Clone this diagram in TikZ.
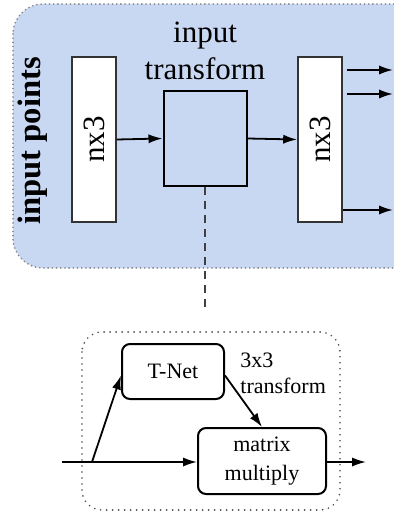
\documentclass[tikz,border=0pt]{standalone}
\usepackage{fontspec}
\setmainfont{Liberation Serif}
\usetikzlibrary{arrows.meta,calc}
\definecolor{panelblue}{RGB}{201,216,242}
\begin{document}
\begin{tikzpicture}[x=0.5pt,y=-0.5pt,
  every node/.style={inner sep=0pt},
  bigtext/.style={font=\fontsize{15.5}{18.5}\selectfont},
  smalltext/.style={font=\fontsize{11}{13}\selectfont},
  plainbox/.style={draw=black!80,line width=0.8pt,fill=white},
  emptybox/.style={draw=black,line width=1pt},
  roundbox/.style={draw=black,line width=1pt,rounded corners=4pt,fill=white,smalltext},
  arr/.style={-{Latex[length=7pt,width=4.6pt]},line width=0.9pt},
  dotframe/.style={gray,line width=0.9pt,line cap=round,dash pattern=on 0pt off 2.1pt}
]
\useasboundingbox (0,0) rectangle (394,513);

% upper panel, running off the right edge
\begin{scope}
  \clip (0,0) rectangle (394,513);
  \draw[dotframe,fill=panelblue,rounded corners=15pt] (13,4) rectangle (440,268);
\end{scope}

\node[font=\fontsize{16.3}{19}\selectfont\bfseries,rotate=90] (lbl) at (33,141) {input points};

\node[plainbox,minimum width=22pt,minimum height=82.5pt] (lb) at (94,139.5) {\rotatebox{90}{\fontsize{15.5}{18.5}\selectfont nx3}};
\node[emptybox,minimum width=41.5pt,minimum height=47.5pt] (tf) at (205,138.5) {};
\node[bigtext,align=center,anchor=south] (tft) at (205,80) {input\\transform};
\node[plainbox,minimum width=22pt,minimum height=82.5pt] (rb) at (320,139.5) {\rotatebox{90}{\fontsize{15.5}{18.5}\selectfont nx3}};

\draw[arr] (lb.east) -- (tf.west);
\draw[arr] (tf.east) -- (rb.west);

\coordinate (o1) at (393,70);
\coordinate (o2) at (393,94);
\coordinate (o3) at (393,210);
\draw[arr] ([xshift=2pt]rb.east |- o1) -- (o1);
\draw[arr] ([xshift=2pt]rb.east |- o2) -- (o2);
\draw[arr] (rb.east |- o3) -- (o3);

% link down to the detail view
\coordinate (dend) at (205,307);
\draw[line width=0.7pt,black!75,dash pattern=on 4pt off 3pt] (tf.south) -- (dend);

% lower panel: the transform in detail
\draw[dotframe,black!70,dash pattern=on 0pt off 3pt] [rounded corners=10pt] (82,332) rectangle (340,510);

\node[roundbox,minimum width=51pt,minimum height=27.5pt] (tn) at (173,371.5) {T-Net};
\node[roundbox,minimum width=64pt,minimum height=33pt,align=center,font=\fontsize{11}{14.5}\selectfont] (mm) at (262,461) {matrix\\multiply};
\node[smalltext,align=left,anchor=north west] (tl) at (240,353) {3x3\\transform};

\coordinate (in) at (62,462);
\coordinate (br) at (92,462);
\coordinate (out) at (366,462);
\draw[line width=0.9pt] (in) -- (br);
\draw[arr] (br) -- (mm.west |- br);
\draw[arr] (br) -- ([yshift=-2pt]tn.west);
\draw[arr] ([yshift=-2pt]tn.east) -- (mm.north);
\draw[arr] (mm.east |- out) -- (out);
\end{tikzpicture}
\end{document}
